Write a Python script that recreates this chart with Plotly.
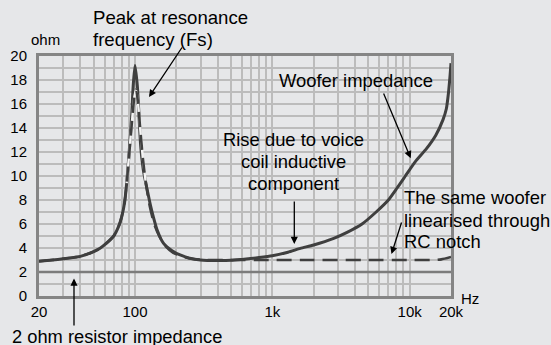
import plotly.graph_objects as go

# Frequency axis (Hz) and impedance readings (ohm)
woofer_freq = [20, 25, 30, 40, 50, 56, 62, 70, 76, 80, 84, 87, 91, 94.5, 97, 100,
               104, 107, 110, 115, 122, 130, 136, 145, 161, 185, 213, 250, 300,
               400, 500, 600, 800, 1000, 1300, 1600, 2000, 2800, 3500, 4500,
               5700, 7000, 8100, 9300, 11000, 13300, 15500, 17500, 18500,
               19200, 19700, 20000]
woofer_ohm = [2.9, 3.0, 3.1, 3.3, 3.7, 4.0, 4.4, 5.0, 5.8, 6.6, 7.8, 9.4, 12.2, 14.9,
              17.5, 19.2, 17.5, 15.0, 12.5, 10.5, 9.0, 7.5, 6.6, 5.5, 4.4, 3.8,
              3.42, 3.15, 3.0, 2.95, 2.97, 3.05, 3.2, 3.35, 3.65, 3.97, 4.25,
              4.8, 5.3, 6.0, 7.0, 8.0, 9.0, 10.0, 11.2, 12.3, 13.4, 14.7, 15.6,
              17.0, 18.4, 19.4]

notch_freq = [20, 25, 30, 40, 50, 56, 62, 70, 76, 80, 84, 87, 91, 95, 99, 102,
              105, 109, 114, 120, 128, 138, 150, 165, 190, 220, 260, 320, 500,
              1000, 2000, 5000, 10000, 15000, 17000, 20000]
notch_ohm = [2.9, 3.0, 3.1, 3.3, 3.7, 4.0, 4.4, 5.0, 5.8, 6.6, 7.8, 9.4, 12.0, 14.5,
             16.6, 17.2, 16.2, 14.0, 11.5, 9.4, 7.5, 6.0, 5.0, 4.2, 3.6, 3.3,
             3.1, 3.0, 3.0, 3.0, 3.0, 3.0, 3.0, 3.0, 3.05, 3.25]

resistor_freq = [20, 20000]
resistor_ohm = [2, 2]

# Axis ticks: gridlines on every decade step, labels on a few of them
x_grid = [20, 30, 40, 50, 60, 70, 80, 90, 100, 200, 300, 400, 500, 600, 700, 800,
          900, 1000, 2000, 3000, 4000, 5000, 6000, 7000, 8000, 9000, 10000, 20000]
x_labels = {20: "20", 100: "100", 1000: "1k", 10000: "10k", 20000: "20k"}
y_grid = list(range(0, 21))
y_labels = {v: str(v) for v in range(0, 21, 2)}

BG = "#e6e7e9"
CURVE = "#3f3f3f"
GRID = "#bcbcbc"
FRAME = "#858585"
FONT = "Liberation Sans, Arial, sans-serif"

fig = go.Figure()

fig.add_trace(go.Scatter(
    x=resistor_freq, y=resistor_ohm, mode="lines",
    line=dict(color="#7c7c7c", width=2.5), hoverinfo="skip"))

fig.add_trace(go.Scatter(
    x=woofer_freq, y=woofer_ohm, mode="lines",
    line=dict(color=CURVE, width=3, shape="spline", smoothing=0.6),
    hoverinfo="skip"))

# light backing under the dashed curve where it sits inside the resonance peak
peak_lo, peak_hi = 11, 20
fig.add_trace(go.Scatter(
    x=notch_freq[peak_lo:peak_hi], y=notch_ohm[peak_lo:peak_hi], mode="lines",
    line=dict(color="#f4f4f4", width=2.4, shape="spline", smoothing=0.6),
    hoverinfo="skip"))

fig.add_trace(go.Scatter(
    x=notch_freq, y=notch_ohm, mode="lines",
    line=dict(color=CURVE, width=2.6, dash="15px,8px", shape="spline",
              smoothing=0.6),
    hoverinfo="skip"))

fig.update_layout(
    width=551, height=345,
    margin=dict(l=39, r=100, t=56, b=49),
    paper_bgcolor=BG, plot_bgcolor=BG,
    showlegend=False,
    font=dict(family=FONT, size=15, color="#000000"),
)

fig.update_xaxes(
    type="log", range=[1.30103, 4.30103], automargin=False,
    tickmode="array", tickvals=x_grid,
    ticktext=[x_labels.get(v, "") for v in x_grid],
    showgrid=True, gridcolor=GRID, gridwidth=1.6,
    showline=True, mirror=True, linecolor=FRAME, linewidth=3,
    ticks="", ticklabelstandoff=0, zeroline=False,
)
fig.update_yaxes(
    range=[0, 20], automargin=False,
    tickmode="array", tickvals=y_grid,
    ticktext=[y_labels.get(v, "") for v in y_grid],
    showgrid=True, gridcolor=GRID, gridwidth=1.6,
    showline=True, mirror=True, linecolor=FRAME, linewidth=3,
    ticks="", ticklabelstandoff=6, zeroline=False,
)

# Plot area in pixels: x 39..451, y 56..296
def px(xp):
    return (xp - 39) / 412.0

def py(yp):
    return (296 - yp) / 240.0

notes = [
    # (text, x px, y px, xanchor, size)
    ("ohm", 45, 39.5, "center", 15),
    ("Hz", 470, 298.5, "center", 15),
    ("Peak at resonance", 91, 18, "left", 18.6),
    ("frequency (Fs)", 91, 39, "left", 18.6),
    ("Woofer impedance", 277, 80.5, "left", 18.4),
    ("Rise due to voice", 293.5, 139, "center", 18.4),
    ("coil inductive", 293.5, 161.3, "center", 18.4),
    ("component", 293.5, 183.3, "center", 18.4),
    ("The same woofer", 402, 197.3, "left", 18.4),
    ("linearised through", 402, 220, "left", 18.4),
    ("RC notch", 402, 241.7, "left", 18.4),
    ("2 ohm resistor impedance", 10, 336, "left", 18.3),
]
for text, xp, yp, anchor, size in notes:
    fig.add_annotation(
        text=text, xref="paper", yref="paper", x=px(xp), y=py(yp),
        xanchor=anchor, yanchor="middle", showarrow=False,
        font=dict(family=FONT, size=size, color="#000000"))

arrows = [
    # (tip x px, tip y px, tail x px, tail y px)
    (149, 97, 183, 46),
    (410.7, 158.3, 383, 92),
    (294.3, 244, 294.3, 200),
    (391.5, 254, 402, 221),
    (74, 278.5, 74, 327),
]
for tx, ty, sx, sy in arrows:
    fig.add_annotation(
        text="", xref="paper", yref="paper", x=px(tx), y=py(ty),
        ax=sx - tx, ay=sy - ty, showarrow=True,
        arrowhead=2, arrowsize=1.1, arrowwidth=1.3, arrowcolor="#000000",
        standoff=0, startstandoff=0)

fig.write_html("out.html")
